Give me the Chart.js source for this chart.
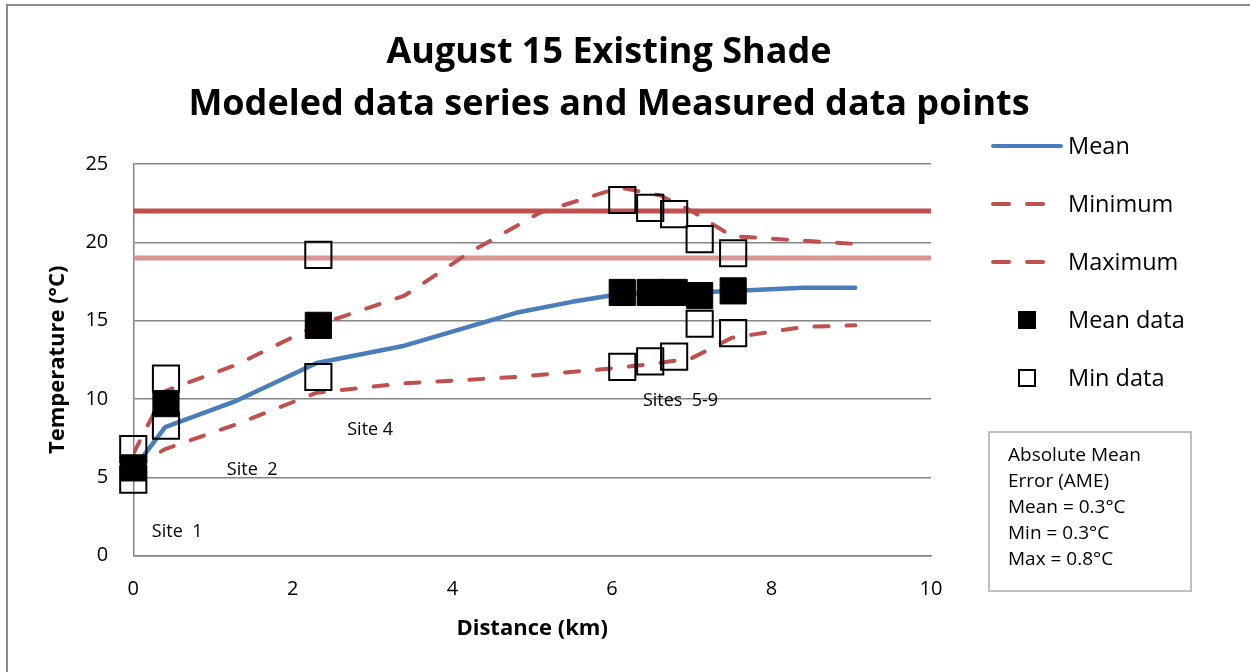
<!DOCTYPE html>
<html>
<head>
<meta charset="utf-8">
<script src="https://cdn.jsdelivr.net/npm/chart.js@4.4.1/dist/chart.umd.min.js"></script>
<style>
  html, body { margin: 0; padding: 0; background: #fff; }
  #wrap { position: relative; width: 1250px; height: 672px; }
  #frame { position: absolute; left: 6px; top: 4px; width: 1260px; height: 680px; border: 2px solid #8c8c8c; box-sizing: border-box; }
  canvas { position: absolute; left: 0; top: 0; }
</style>
</head>
<body>
<div id="wrap">
  <div id="frame"></div>
  <canvas id="grafico" width="1250" height="672"></canvas>
</div>
<script>
const FUENTE = "'Open Sans', Lato, sans-serif";

// modelo
const meanKm = [0, 0.4, 1.3, 2.3, 3.4, 4.8, 5.5, 6.1, 6.6, 7.0, 7.5, 8.4, 9.05];
const meanT = [5.5, 8.2, 9.9, 12.3, 13.4, 15.5, 16.2, 16.7, 16.8, 16.8, 16.9, 17.1, 17.1];
const minKm = [0, 0.4, 1.3, 2.3, 3.4, 4.8, 6.1, 6.6, 7.0, 7.5, 8.4, 9.05];
const minT = [5.6, 6.8, 8.4, 10.4, 11.0, 11.4, 12.0, 12.3, 12.6, 13.9, 14.6, 14.7];
const maxKm = [0, 0.4, 1.3, 2.3, 3.4, 4.2, 5.1, 6.1, 6.6, 7.0, 7.5, 8.4, 9.05];
const maxT = [6.5, 10.5, 12.2, 14.7, 16.6, 19.3, 21.9, 23.5, 23.0, 22.0, 20.4, 20.1, 19.9];

// medidos
const siteKm = [0, 0.41, 2.32, 6.13, 6.48, 6.78, 7.1, 7.52];
const meanData = [5.6, 9.7, 14.7, 16.8, 16.8, 16.8, 16.6, 16.9];
const minData = [4.85, 8.3, 11.4, 12.05, 12.4, 12.7, 14.8, 14.2];
const maxData = [6.8, 11.3, 19.2, 22.7, 22.2, 21.8, 20.2, 19.3];

// criterios
const limiteKm = [0, 10];
const limite22 = [22, 22];
const limite19 = [19, 19];

const sitios = ["Site  1", "Site  2", "Site 4", "Sites  5-9"];
const sitiosKm = [0.55, 1.49, 2.97, 6.86];
const sitiosT = [1.5, 5.45, 8.0, 9.9];

const titulo = ["August 15 Existing Shade", "Modeled data series and Measured data points"];
const ameLineas = ["Absolute Mean", "Error (AME)", "Mean = 0.3°C", "Min = 0.3°C", "Max = 0.8°C"];

const AZUL = "#4a7ebb";
const ROJO = "#c0504d";
const ROSA = "#d99694";

function puntos(xs, ys) {
  return xs.map((x, i) => ({ x, y: ys[i] }));
}

const lineaBase = { showLine: true, pointRadius: 0, fill: false, tension: 0, borderCapStyle: "round", borderJoinStyle: "round" };

// titulo, leyenda y textos a mano
const extras = {
  id: "extras",
  afterDatasetsDraw(chart) {
    const ctx = chart.ctx;
    const sx = chart.scales.x;
    const sy = chart.scales.y;
    ctx.save();
    ctx.fillStyle = "#000";
    ctx.textAlign = "center";
    ctx.textBaseline = "middle";

    ctx.font = "bold 36px " + FUENTE;
    titulo.forEach((t, i) => ctx.fillText(t, 609, 53 + i * 52));

    ctx.font = "18px " + FUENTE;
    sitios.forEach((s, i) => {
      ctx.fillText(s, sx.getPixelForValue(sitiosKm[i]), sy.getPixelForValue(sitiosT[i]));
    });

    // leyenda
    const items = [
      { txt: "Mean", tipo: "linea", color: AZUL, dash: [] },
      { txt: "Minimum", tipo: "linea", color: ROJO, dash: [16, 18] },
      { txt: "Maximum", tipo: "linea", color: ROJO, dash: [16, 18] },
      { txt: "Mean data", tipo: "lleno" },
      { txt: "Min data", tipo: "vacio" }
    ];
    ctx.textAlign = "left";
    ctx.font = "23.5px " + FUENTE;
    items.forEach((it, i) => {
      const y = 146 + i * 58;
      if (it.tipo === "linea") {
        ctx.beginPath();
        ctx.strokeStyle = it.color;
        ctx.lineWidth = 4;
        ctx.lineCap = "round";
        ctx.setLineDash(it.dash);
        ctx.moveTo(993, y);
        ctx.lineTo(1061, y);
        ctx.stroke();
        ctx.setLineDash([]);
      } else if (it.tipo === "lleno") {
        ctx.fillStyle = "#000";
        ctx.fillRect(1018, y - 9, 18, 18);
      } else {
        ctx.strokeStyle = "#000";
        ctx.lineWidth = 2;
        ctx.strokeRect(1019, y - 8, 16, 16);
      }
      ctx.fillStyle = "#000";
      ctx.fillText(it.txt, 1068, y + 1);
    });

    // cuadro AME
    ctx.strokeStyle = "#bfbfbf";
    ctx.lineWidth = 2;
    ctx.strokeRect(989, 432, 202, 159);
    ctx.font = "19px " + FUENTE;
    ameLineas.forEach((l, i) => {
      ctx.fillText(l, 1008, 456 + i * 26);
    });
    ctx.restore();
  }
};

new Chart(document.getElementById("grafico"), {
  type: "scatter",
  data: {
    datasets: [
      { label: "Mean data", data: puntos(siteKm, meanData), pointStyle: "rect", pointRadius: 18.5, backgroundColor: "#000", borderColor: "#000", borderWidth: 1, clip: false, order: 1 },
      { label: "Min data", data: puntos(siteKm, minData), pointStyle: "rect", pointRadius: 18.5, backgroundColor: "rgba(0,0,0,0)", borderColor: "#000", borderWidth: 2, clip: false, order: 2 },
      { label: "Max data", data: puntos(siteKm, maxData), pointStyle: "rect", pointRadius: 18.5, backgroundColor: "rgba(0,0,0,0)", borderColor: "#000", borderWidth: 2, clip: false, order: 2 },
      { ...lineaBase, label: "Mean", data: puntos(meanKm, meanT), borderColor: AZUL, borderWidth: 4.5, order: 4 },
      { ...lineaBase, label: "Minimum", data: puntos(minKm, minT), borderColor: ROJO, borderWidth: 4, borderDash: [14, 18], order: 5 },
      { ...lineaBase, label: "Maximum", data: puntos(maxKm, maxT), borderColor: ROJO, borderWidth: 4, borderDash: [14, 18], order: 5 },
      { ...lineaBase, label: "22", data: puntos(limiteKm, limite22), borderColor: ROJO, borderWidth: 5, borderCapStyle: "butt", order: 6 },
      { ...lineaBase, label: "19", data: puntos(limiteKm, limite19), borderColor: ROSA, borderWidth: 5, borderCapStyle: "butt", order: 6 }
    ]
  },
  options: {
    responsive: false,
    animation: false,
    events: [],
    layout: { padding: { left: 45, right: 319, top: 164, bottom: 30 } },
    plugins: {
      legend: { display: false },
      tooltip: { enabled: false },
      title: { display: false }
    },
    scales: {
      x: {
        type: "linear",
        min: 0,
        max: 10,
        ticks: { stepSize: 2, color: "#000", font: { family: FUENTE, size: 20 }, padding: 22 },
        grid: { display: false, drawTicks: false },
        border: { color: "#868686", width: 1.5 },
        title: { display: true, text: "Distance (km)", color: "#000", font: { family: FUENTE, size: 22, weight: "bold" }, padding: { top: -8, bottom: 0 } }
      },
      y: {
        min: 0,
        max: 25,
        ticks: { stepSize: 5, color: "#000", font: { family: FUENTE, size: 20 }, padding: 25 },
        grid: { color: "#868686", lineWidth: 1.5, drawTicks: false },
        border: { color: "#868686", width: 1.5 },
        title: { display: true, text: "Temperature (°C)", color: "#000", font: { family: FUENTE, size: 22, weight: "bold" }, padding: { top: 0, bottom: -11 } }
      }
    }
  },
  plugins: [extras]
});
</script>
</body>
</html>
